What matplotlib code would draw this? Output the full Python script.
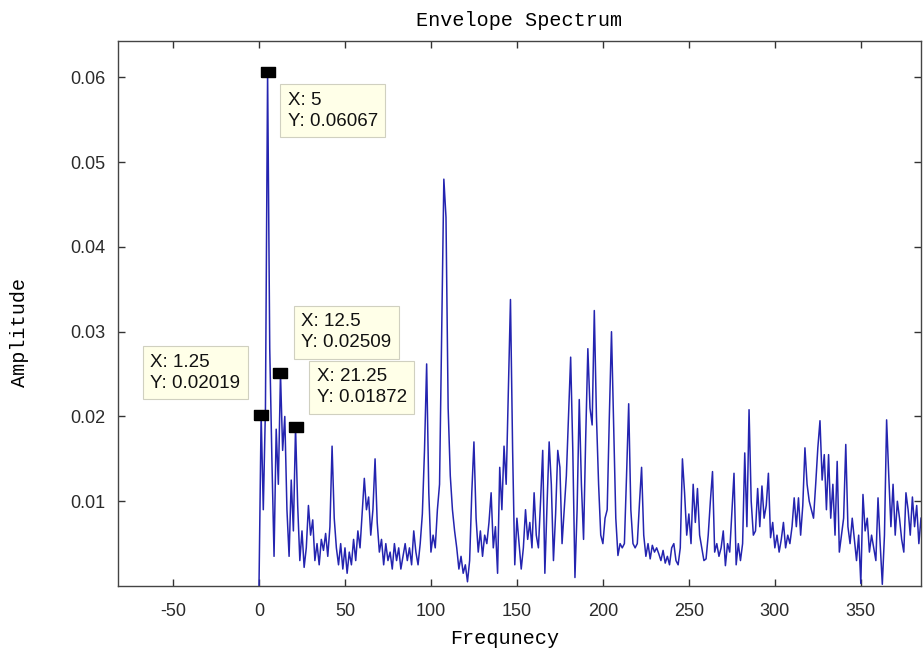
import numpy as np
import matplotlib.pyplot as plt

plt.rcParams['axes.unicode_minus'] = False

# Envelope spectrum amplitudes, 1.25 Hz bins starting at 0 Hz
df = 1.25
amp = [
    0.0000, 0.02019, 0.0090, 0.0210, 0.06067, 0.0280, 0.0150, 0.0035,
    0.0185, 0.0120, 0.02509, 0.0160, 0.0200, 0.0090, 0.0035, 0.0125,
    0.0065, 0.01872, 0.0095, 0.0030, 0.0065, 0.0022, 0.0045, 0.0095,
    0.0060, 0.0078, 0.0030, 0.0050, 0.0025, 0.0055, 0.0042, 0.0062,
    0.0035, 0.0070, 0.0165, 0.0080, 0.0045, 0.0025, 0.0050, 0.0020,
    0.0045, 0.0015, 0.0040, 0.0025, 0.0055, 0.0030, 0.0065, 0.0045,
    0.0085, 0.0127, 0.0090, 0.0105, 0.0060, 0.0090, 0.0150, 0.0075,
    0.0040, 0.0055, 0.0025, 0.0050, 0.0030, 0.0040, 0.0020, 0.0050,
    0.0030, 0.0045, 0.0020, 0.0035, 0.0050, 0.0030, 0.0045, 0.0025,
    0.0065, 0.0040, 0.0025, 0.0050, 0.0085, 0.0160, 0.0262, 0.0110,
    0.0040, 0.0060, 0.0045, 0.0090, 0.0120, 0.0300, 0.0480, 0.0435,
    0.0210, 0.0130, 0.0090, 0.0065, 0.0045, 0.0020, 0.0035, 0.0015,
    0.0025, 0.0005, 0.0030, 0.0110, 0.0170, 0.0080, 0.0040, 0.0065,
    0.0035, 0.0060, 0.0050, 0.0075, 0.0110, 0.0045, 0.0070, 0.0015,
    0.0140, 0.0090, 0.0165, 0.0120, 0.0230, 0.0338, 0.0160, 0.0025,
    0.0080, 0.0050, 0.0020, 0.0045, 0.0090, 0.0055, 0.0075, 0.0045,
    0.0110, 0.0060, 0.0045, 0.0100, 0.0160, 0.0015, 0.0095, 0.0170,
    0.0120, 0.0030, 0.0085, 0.0160, 0.0140, 0.0050, 0.0090, 0.0130,
    0.0200, 0.0270, 0.0160, 0.0010, 0.0090, 0.0220, 0.0120, 0.0055,
    0.0175, 0.0280, 0.0210, 0.0190, 0.0325, 0.0200, 0.0120, 0.0060,
    0.0050, 0.0080, 0.0090, 0.0200, 0.0300, 0.0190, 0.0080, 0.0036,
    0.0050, 0.0045, 0.0050, 0.0130, 0.0215, 0.0090, 0.0050, 0.0045,
    0.0050, 0.0097, 0.0140, 0.0060, 0.0035, 0.0050, 0.0032, 0.0048,
    0.0040, 0.0045, 0.0038, 0.0030, 0.0042, 0.0027, 0.0035, 0.0025,
    0.0045, 0.0050, 0.0030, 0.0025, 0.0045, 0.0150, 0.0110, 0.0060,
    0.0085, 0.0050, 0.0120, 0.0075, 0.0115, 0.0060, 0.0045, 0.0030,
    0.0032, 0.0060, 0.0100, 0.0135, 0.0040, 0.0050, 0.0035, 0.0045,
    0.0065, 0.0024, 0.0050, 0.0040, 0.0086, 0.0133, 0.0025, 0.0050,
    0.0030, 0.0050, 0.0157, 0.0070, 0.0208, 0.0100, 0.0060, 0.0065,
    0.0115, 0.0070, 0.0118, 0.0080, 0.0095, 0.0133, 0.0057, 0.0075,
    0.0045, 0.0060, 0.0040, 0.0055, 0.0075, 0.0045, 0.0060, 0.0050,
    0.0070, 0.0104, 0.0070, 0.0104, 0.0060, 0.0095, 0.0163, 0.0120,
    0.0100, 0.0090, 0.0080, 0.0120, 0.0163, 0.0195, 0.0125, 0.0155,
    0.0090, 0.0155, 0.0080, 0.0120, 0.0060, 0.0147, 0.0040, 0.0060,
    0.0080, 0.0167, 0.0070, 0.0050, 0.0080, 0.0055, 0.0030, 0.0060,
    0.0003, 0.0108, 0.0065, 0.0080, 0.0040, 0.0060, 0.0045, 0.0030,
    0.0104, 0.0050, 0.0002, 0.0060, 0.0196, 0.0130, 0.0070, 0.0120,
    0.0060, 0.0100, 0.0080, 0.0055, 0.0040, 0.0110, 0.0090, 0.0060,
    0.0105, 0.0070, 0.0095, 0.0050, 0.0080,
]
freq = np.arange(len(amp)) * df

# bins marked with data tips, and where each label box sits (pixels from the point)
tip_bins = [1, 4, 10, 17]
tip_offsets = [(-21, 61, 'right'), (20, -20, 'left'), (21, 60, 'left'), (21, 59, 'left')]

fig = plt.figure(figsize=(9.23, 6.52), dpi=100)
ax = fig.add_axes([118 / 923, 1 - 586 / 652, 803 / 923, 545 / 652])

ax.plot(freq, amp, color='#2424b0', lw=1.1)

ax.set_xlim(-82, 385)
ax.set_ylim(0, 0.0643)
ax.set_xticks([-50, 0, 50, 100, 150, 200, 250, 300, 350])
ax.set_yticks([0.01, 0.02, 0.03, 0.04, 0.05, 0.06])
ax.set_yticklabels(['0.01', '0.02', '0.03', '0.04', '0.05', '0.06'])
ax.tick_params(direction='in', length=5, width=1, top=True, right=True,
               labelsize=13, colors='#333333')
ax.tick_params(axis='x', pad=12)
ax.tick_params(axis='y', pad=9)
for lab in ax.get_xticklabels() + ax.get_yticklabels():
    lab.set_family('Liberation Sans')
    lab.set_color('#2a2a2a')
for sp in ax.spines.values():
    sp.set_color('#444444')
    sp.set_linewidth(1.0)

mono = 'Liberation Mono'
ax.set_title('Envelope Spectrum', family=mono, fontsize=14.5, pad=11)
ax.set_xlabel('Frequnecy', family=mono, fontsize=14.5)
ax.set_ylabel('Amplitude', family=mono, fontsize=14.5)
ax.xaxis.set_label_coords((505 - 118) / 803, (586 - 638) / 545)
ax.xaxis.label.set_va('center')
ax.yaxis.set_label_coords((20 - 118) / 803, (586 - 332) / 545)
ax.yaxis.label.set_va('center')

# data tips: black marker on the point plus a pale label box
tip_marker = [(-1.3, -1), (1.3, -1), (1.3, 1), (-1.3, 1), (-1.3, -1)]
for i, (dx, dy, ha) in zip(tip_bins, tip_offsets):
    x, y = freq[i], amp[i]
    ax.plot(x, y, marker=tip_marker, ms=10, color='black', zorder=5)
    ax.annotate('X: %g\nY: %.4g' % (x, y), xy=(x, y), xytext=(dx, dy),
                textcoords='offset pixels', ha=ha, va='top', multialignment='left',
                family='Liberation Sans', fontsize=13.5, color='#111111',
                linespacing=1.3, zorder=6,
                bbox=dict(boxstyle='square,pad=0.4', fc='#ffffe8', ec='#d0d0c0', lw=0.8))

fig.savefig('out.png', dpi=100)
